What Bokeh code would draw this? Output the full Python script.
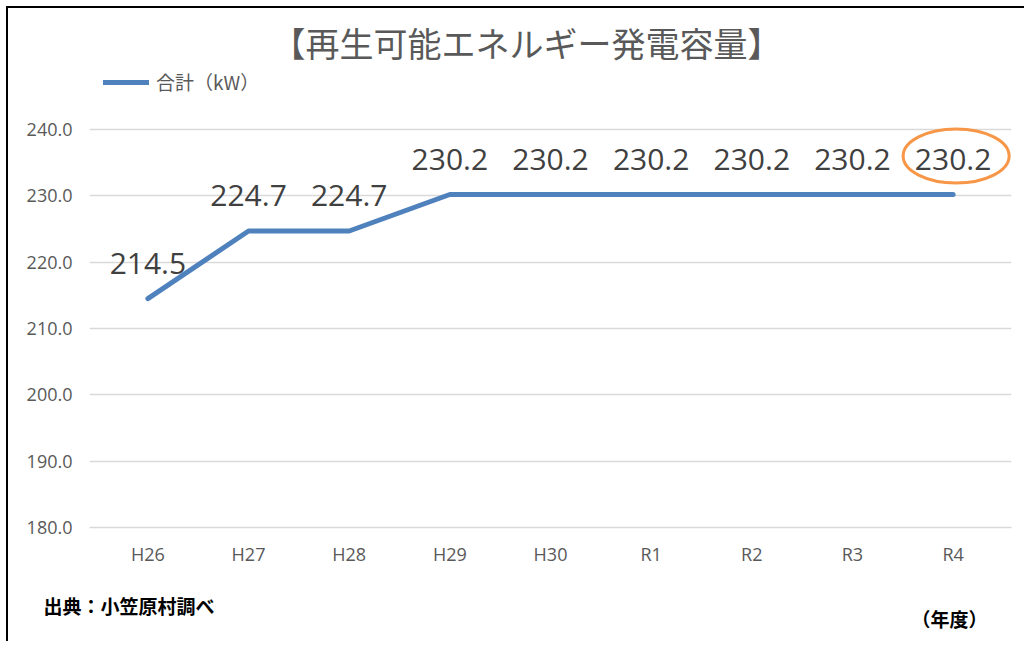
from bokeh.plotting import figure
from bokeh.models import (FactorRange, Range1d, FixedTicker, NumeralTickFormatter,
                          Label, Legend, LegendItem, ColumnDataSource, Title)
from bokeh.transform import dodge
from bokeh.core.properties import value
from bokeh.embed import file_html
from bokeh.resources import INLINE

# ---- data ----
years = ["H26", "H27", "H28", "H29", "H30", "R1", "R2", "R3", "R4"]
capacity = [214.5, 224.7, 224.7, 230.2, 230.2, 230.2, 230.2, 230.2, 230.2]
y_ticks = [180, 190, 200, 210, 220, 230, 240]
title_text = "【再生可能エネルギー発電容量】"
series_name = "合計（kW）"
source_text = "出典：小笠原村調べ"
unit_text = "（年度）"

# ---- style / layout constants ----
LINE = "#4F81BD"
GRID = "#D9D9D9"
TXT = "#595959"
JP = "Noto Sans CJK JP"
NUM = "Open Sans"
W, H = 1018, 635
FRAME_BOTTOM = 519          # canvas px of y = 180
GRID_TOP = 121              # canvas px of y = 240
px_per_unit = (FRAME_BOTTOM - GRID_TOP) / (y_ticks[-1] - y_ticks[0])
y_end = y_ticks[0] + FRAME_BOTTOM / px_per_unit   # frame reaches canvas top

src = ColumnDataSource(dict(x=years, y=capacity, lab=[f"{v:.1f}" for v in capacity]))

p = figure(width=W, height=H,
           x_range=FactorRange(*years, range_padding=0.08, range_padding_units="absolute"),
           y_range=Range1d(y_ticks[0], y_end),
           output_backend="svg", toolbar_location=None,
           min_border_left=81, min_border_right=15, min_border_top=0,
           min_border_bottom=H - FRAME_BOTTOM)
p.outline_line_color = None
p.background_fill_color = "white"
p.border_fill_color = "white"
p.styles = {"margin-left": "6px", "margin-top": "6px",
            "border-left": "2px solid #000", "border-top": "2px solid #000"}

p.xgrid.grid_line_color = None
p.ygrid.grid_line_color = GRID
p.ygrid.grid_line_width = 1.3
p.ygrid.ticker = FixedTicker(ticks=y_ticks)

p.yaxis.ticker = FixedTicker(ticks=y_ticks)
p.yaxis.formatter = NumeralTickFormatter(format="0.0")
p.yaxis.axis_line_color = None
p.yaxis.major_tick_line_color = None
p.yaxis.minor_tick_line_color = None
p.yaxis.major_label_standoff = 11
p.yaxis.major_label_text_font = NUM
p.yaxis.major_label_text_font_size = "18px"
p.yaxis.major_label_text_color = TXT

p.xaxis.axis_line_color = GRID
p.xaxis.axis_line_width = 1.3
p.xaxis.major_tick_line_color = None
p.xaxis.minor_tick_line_color = None
p.xaxis.major_label_standoff = 8
p.xaxis.major_label_text_font = NUM
p.xaxis.major_label_text_font_size = "18px"
p.xaxis.major_label_text_color = TXT

r = p.line("x", "y", source=src, line_color=LINE, line_width=5,
           line_cap="round", line_join="round")
p.text("x", "y", text="lab", source=src, text_align="center", text_baseline="alphabetic",
       y_offset=-35, text_font=value(NUM), text_font_size="30px", text_color="#404040")

# highlight ring around the latest value
p.ellipse(x=dodge("x", 0.03, range=p.x_range), y="y",
          source=ColumnDataSource(dict(x=[years[-1]], y=[capacity[-1] + 5.8])),
          width=106, height=54, width_units="screen", height_units="screen",
          fill_color=None, line_color="#F79646", line_width=3)

legend = Legend(items=[LegendItem(label=series_name, renderers=[r])],
                location=(14, 432), orientation="horizontal",
                padding=0, margin=0, spacing=0,
                border_line_color=None, background_fill_alpha=0,
                glyph_width=46, glyph_height=20, label_standoff=7,
                label_text_font=JP, label_text_font_size="19px", label_text_color=TXT)
p.add_layout(legend)

p.add_layout(Label(x=437, y=485, x_units="screen", y_units="screen", text=title_text,
                   text_align="center", text_baseline="middle", text_font=JP,
                   text_font_size="34px", text_color=TXT))

t1 = Title(text=source_text, align="left", offset=-46, standoff=46, vertical_align="top",
           text_font=JP, text_font_size="19px", text_font_style="bold",
           text_color="#000000")
p.add_layout(t1, "below")
t2 = Title(text=unit_text, align="right", offset=24, standoff=0, vertical_align="top",
           text_font=JP, text_font_size="19px", text_font_style="bold",
           text_color="#000000")
try:
    t2.standoff = -77
except ValueError:
    pass
p.add_layout(t2, "below")

open("out.html", "w").write(file_html(p, INLINE))
